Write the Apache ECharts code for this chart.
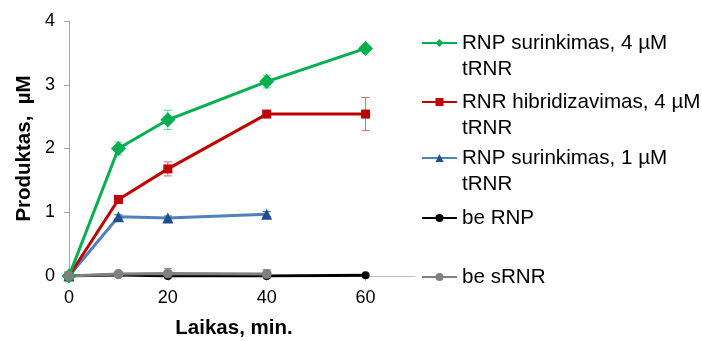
<!DOCTYPE html>
<html>
<head>
<meta charset="utf-8">
<script src="https://cdn.jsdelivr.net/npm/echarts@6/dist/echarts.min.js"></script>
<style>
  html, body { margin: 0; padding: 0; background: #fff; }
  #chart { width: 702px; height: 341px; }
</style>
</head>
<body>
<div id="chart"></div>
<script>
// laiko taskai (min.)
const times = [0, 10, 20, 40, 60]
const xTicks = [0, 20, 40, 60]
const yTicks = [0, 1, 2, 3, 4]

const rnp4 = [0, 2.0, 2.45, 3.05, 3.57]
const rnp4Err = [0, 0.1, 0.15, 0.1, 0]
const rnr4 = [0, 1.2, 1.68, 2.54, 2.54]
const rnr4Err = [0, 0.03, 0.11, 0, 0.26]
const rnp1 = [0, 0.93, 0.91, 0.97]
const rnp1Err = [0, 0.03, 0.03, 0.04]
const beRnp = [0, 0.02, 0, 0, 0.01]
const beSrnr = [0, 0.03, 0.04, 0.03]
const beSrnrErr = [0, 0.02, 0.08, 0.07]

const names = [
  'RNP surinkimas, 4 µM\ntRNR',
  'RNR hibridizavimas, 4 µM\ntRNR',
  'RNP surinkimas, 1 µM\ntRNR',
  'be RNP',
  'be sRNR'
]

const font = 'Liberation Sans, Arial, sans-serif'

const pairs = (vals) => vals.map((v, i) => [times[i], v])
const errPairs = (vals, errs) => vals.map((v, i) => [times[i], v, errs[i]])

function lineSeries(name, vals, color, symColor, symbol, size) {
  return {
    name: name,
    type: 'line',
    data: pairs(vals),
    symbol: symbol,
    symbolSize: size,
    lineStyle: { color: color, width: 3 },
    itemStyle: { color: symColor },
    animation: false
  }
}

function errSeries(vals, errs, color) {
  return {
    type: 'custom',
    data: errPairs(vals, errs),
    silent: true,
    animation: false,
    z: 1,
    renderItem: function (params, api) {
      const x = api.value(0)
      const y = api.value(1)
      const e = api.value(2)
      if (!e) return
      const top = api.coord([x, y + e])
      const bot = api.coord([x, y - e])
      const w = 4
      const style = { stroke: color, lineWidth: 1 }
      return {
        type: 'group',
        children: [
          { type: 'line', shape: { x1: top[0], y1: top[1], x2: bot[0], y2: bot[1] }, style: style },
          { type: 'line', shape: { x1: top[0] - w, y1: top[1], x2: top[0] + w, y2: top[1] }, style: style },
          { type: 'line', shape: { x1: bot[0] - w, y1: bot[1], x2: bot[0] + w, y2: bot[1] }, style: style }
        ]
      }
    }
  }
}

// legendos, viena kiekvienam irasui; dvieju eiluciu tekstui pridedama tuscia eilute virsuje,
// kad ikona butu ties pirma eilute
const legendTops = [4, 63, 119, 205, 264]
const legends = names.map((n, i) => {
  const twoLines = n.indexOf('\n') >= 0
  return {
    data: [n],
    left: 421,
    top: legendTops[i],
    orient: 'vertical',
    padding: 0,
    itemWidth: 35,
    itemHeight: 10,
    formatter: (name) => (twoLines ? ' \n' + name : name),
    textStyle: {
      fontFamily: font,
      fontSize: 20.6,
      color: '#000',
      lineHeight: 26
    },
    selectedMode: false
  }
})

const chart = echarts.init(document.getElementById('chart'))
chart.setOption({
  backgroundColor: '#fff',
  animation: false,
  grid: { left: 69, right: 287, top: 21, bottom: 65, outerBoundsMode: 'none', containLabel: false },
  legend: legends,
  xAxis: {
    type: 'value',
    min: 0,
    max: 70,
    interval: 20,
    name: 'Laikas, min.',
    nameLocation: 'middle',
    nameGap: 42,
    nameTextStyle: { fontFamily: font, fontSize: 20.5, fontWeight: 'bold', color: '#000', padding: [0, 16, 0, 0] },
    axisLine: { lineStyle: { color: '#BFBFBF', width: 1 } },
    axisTick: { show: true, length: 5, lineStyle: { color: '#BFBFBF' } },
    axisLabel: {
      fontFamily: font,
      fontSize: 18,
      color: '#000',
      margin: 13,
      showMaxLabel: false,
      formatter: (v) => (xTicks.indexOf(v) >= 0 ? String(v) : '')
    },
    splitLine: { show: false }
  },
  yAxis: {
    type: 'value',
    min: 0,
    max: 4,
    interval: 1,
    name: 'Produktas,  µM',
    nameLocation: 'middle',
    nameGap: 34,
    nameTextStyle: { fontFamily: font, fontSize: 20.5, fontWeight: 'bold', color: '#000' },
    axisLine: { show: true, lineStyle: { color: '#A6A6A6', width: 1 } },
    axisTick: { show: true, length: 5, lineStyle: { color: '#A6A6A6' } },
    axisLabel: {
      fontFamily: font,
      fontSize: 18,
      color: '#000',
      margin: 14,
      formatter: (v) => (yTicks.indexOf(v) >= 0 ? String(v) : '')
    },
    splitLine: { show: false }
  },
  series: [
    errSeries(rnp4, rnp4Err, '#5FD38D'),
    errSeries(rnr4, rnr4Err, '#E06666'),
    errSeries(rnp1, rnp1Err, '#2F5597'),
    errSeries(beSrnr, beSrnrErr, '#8C8C8C'),
    lineSeries(names[3], beRnp, '#000000', '#000000', 'circle', 8),
    lineSeries(names[2], rnp1, '#4F81BD', '#1F4E8C', 'triangle', 11),
    lineSeries(names[1], rnr4, '#C00000', '#C00000', 'rect', 9),
    lineSeries(names[0], rnp4, '#00B050', '#00B050', 'diamond', 15),
    lineSeries(names[4], beSrnr, '#808080', '#808080', 'circle', 10)
  ]
})
</script>
</body>
</html>
